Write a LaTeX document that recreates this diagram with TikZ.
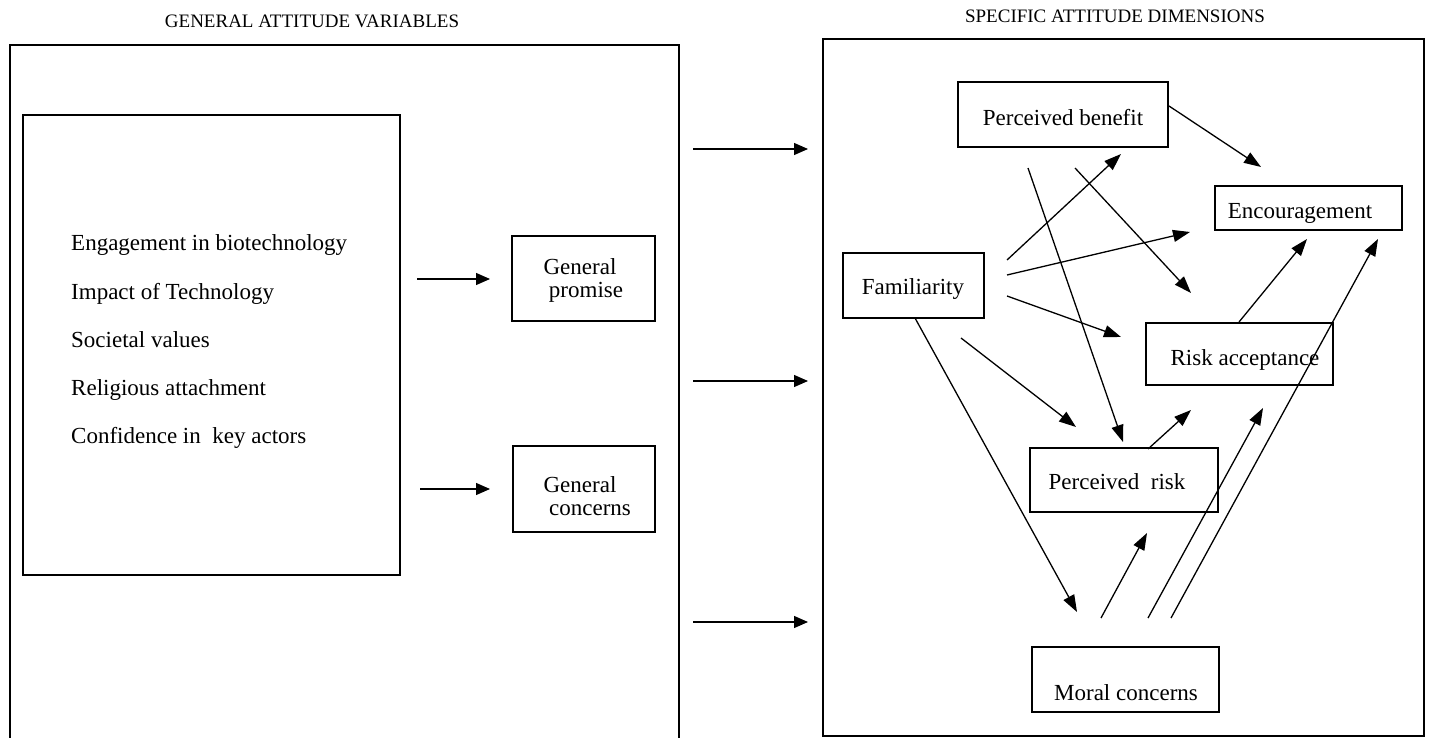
\documentclass[tikz,border=0pt]{standalone}
\usepackage{fontspec}
\setmainfont{Liberation Serif}
\usetikzlibrary{arrows.meta}
\begin{document}
\begin{tikzpicture}[x=1pt,y=-1pt,
  box/.style={draw,line width=1.4pt,inner sep=0pt,rectangle},
  frame/.style={draw,line width=1.4pt},
  txt/.style={font=\fontsize{23}{27}\selectfont,inner sep=0pt},
  ttl/.style={font=\fontsize{19}{22}\selectfont,inner sep=0pt},
  arr/.style={line width=1.3pt,-{Triangle[length=17pt,width=12pt]}},
  sarr/.style={line width=1.3pt,-{Triangle[length=14pt,width=12pt]}}]
\useasboundingbox (0,0) rectangle (1432,738);
% frames
\draw[frame] (10,760) -- (10,45) -- (679,45) -- (679,760);
\draw[frame] (823,39) rectangle (1424,736);
% titles
\node[ttl] (t1) at (312,21) {GENERAL ATTITUDE VARIABLES};
\node[ttl] (t2) at (1115,16) {SPECIFIC ATTITUDE DIMENSIONS};
% left boxes
\node[box,minimum width=377pt,minimum height=460pt] (inner) at (211.5,345) {};
\node[txt,anchor=base west] (l1) at (71,251) {Engagement in biotechnology};
\node[txt,anchor=base west] (l2) at (71,299) {Impact of Technology};
\node[txt,anchor=base west] (l3) at (71,347) {Societal values};
\node[txt,anchor=base west] (l4) at (71,395) {Religious attachment};
\node[txt,anchor=base west] (l5) at (71,443) {Confidence in\ \ key actors};
\node[box,minimum width=143pt,minimum height=85pt] (gp) at (583.5,278.5) {};
\node[txt] (gpt1) at (580,267) {General};
\node[txt] (gpt2) at (586,292) {promise};
\node[box,minimum width=142pt,minimum height=86pt] (gc) at (584,489) {};
\node[txt] (gct1) at (580,485) {General};
\node[txt] (gct2) at (590,510) {concerns};
% right boxes
\node[box,minimum width=210pt,minimum height=65pt] (pb) at (1063,114.5) {};
\node[txt] (pbt) at (1063,118) {Perceived benefit};
\node[box,minimum width=187pt,minimum height=44pt] (enc) at (1308.5,208) {};
\node[txt] (enct) at (1300,213) {Encouragement};
\node[box,minimum width=141pt,minimum height=65pt] (fam) at (913.5,285.5) {};
\node[txt] (famt) at (913,289) {Familiarity};
\node[box,minimum width=187pt,minimum height=62pt] (ra) at (1239.5,354) {};
\node[txt] (rat) at (1245,360) {Risk acceptance};
\node[box,minimum width=188pt,minimum height=64pt] (pr) at (1124,480) {};
\node[txt] (prt) at (1117,482) {Perceived\ \ risk};
\node[box,minimum width=187pt,minimum height=65pt] (mc) at (1125.5,679.5) {};
\node[txt] (mct) at (1126,693) {Moral concerns};
% connector end points
\coordinate (a1s) at (417,279); \coordinate (a1e) at (490,279);
\coordinate (a2s) at (420,489); \coordinate (a2e) at (490,489);
\coordinate (m1s) at (693,149); \coordinate (m1e) at (808,149);
\coordinate (m2s) at (693,381); \coordinate (m2e) at (808,381);
\coordinate (m3s) at (693,622); \coordinate (m3e) at (808,622);
\coordinate (r1s) at (1169,106); \coordinate (r1e) at (1261,167);
\coordinate (r2s) at (1007,260); \coordinate (r2e) at (1121,154);
\coordinate (r3s) at (1028,168); \coordinate (r3e) at (1123,442);
\coordinate (r4s) at (1075,168); \coordinate (r4e) at (1191,293);
\coordinate (r5s) at (1007,275); \coordinate (r5e) at (1190,232);
\coordinate (r6s) at (1007,296); \coordinate (r6e) at (1121,337);
\coordinate (r7s) at (1239,322); \coordinate (r7e) at (1307,239);
\coordinate (r8s) at (1171,618); \coordinate (r8e) at (1378,239);
\coordinate (r9s) at (915,318); \coordinate (r9e) at (1077,612);
\coordinate (r10s) at (961,338); \coordinate (r10e) at (1076,427);
\coordinate (r11s) at (1148,449); \coordinate (r11e) at (1191,410);
\coordinate (r12s) at (1101,618); \coordinate (r12e) at (1147,533);
\coordinate (r13s) at (1148,618); \coordinate (r13e) at (1263,408);
% connectors
\draw[sarr] (a1s) -- (a1e);
\draw[sarr] (a2s) -- (a2e);
\draw[sarr] (m1s) -- (m1e);
\draw[sarr] (m2s) -- (m2e);
\draw[sarr] (m3s) -- (m3e);
\draw[arr] (r1s) -- (r1e);
\draw[arr] (r2s) -- (r2e);
\draw[arr] (r3s) -- (r3e);
\draw[arr] (r4s) -- (r4e);
\draw[arr] (r5s) -- (r5e);
\draw[arr] (r6s) -- (r6e);
\draw[arr] (r7s) -- (r7e);
\draw[arr] (r8s) -- (r8e);
\draw[arr] (r9s) -- (r9e);
\draw[arr] (r10s) -- (r10e);
\draw[arr] (r11s) -- (r11e);
\draw[arr] (r12s) -- (r12e);
\draw[arr] (r13s) -- (r13e);
\end{tikzpicture}
\end{document}
